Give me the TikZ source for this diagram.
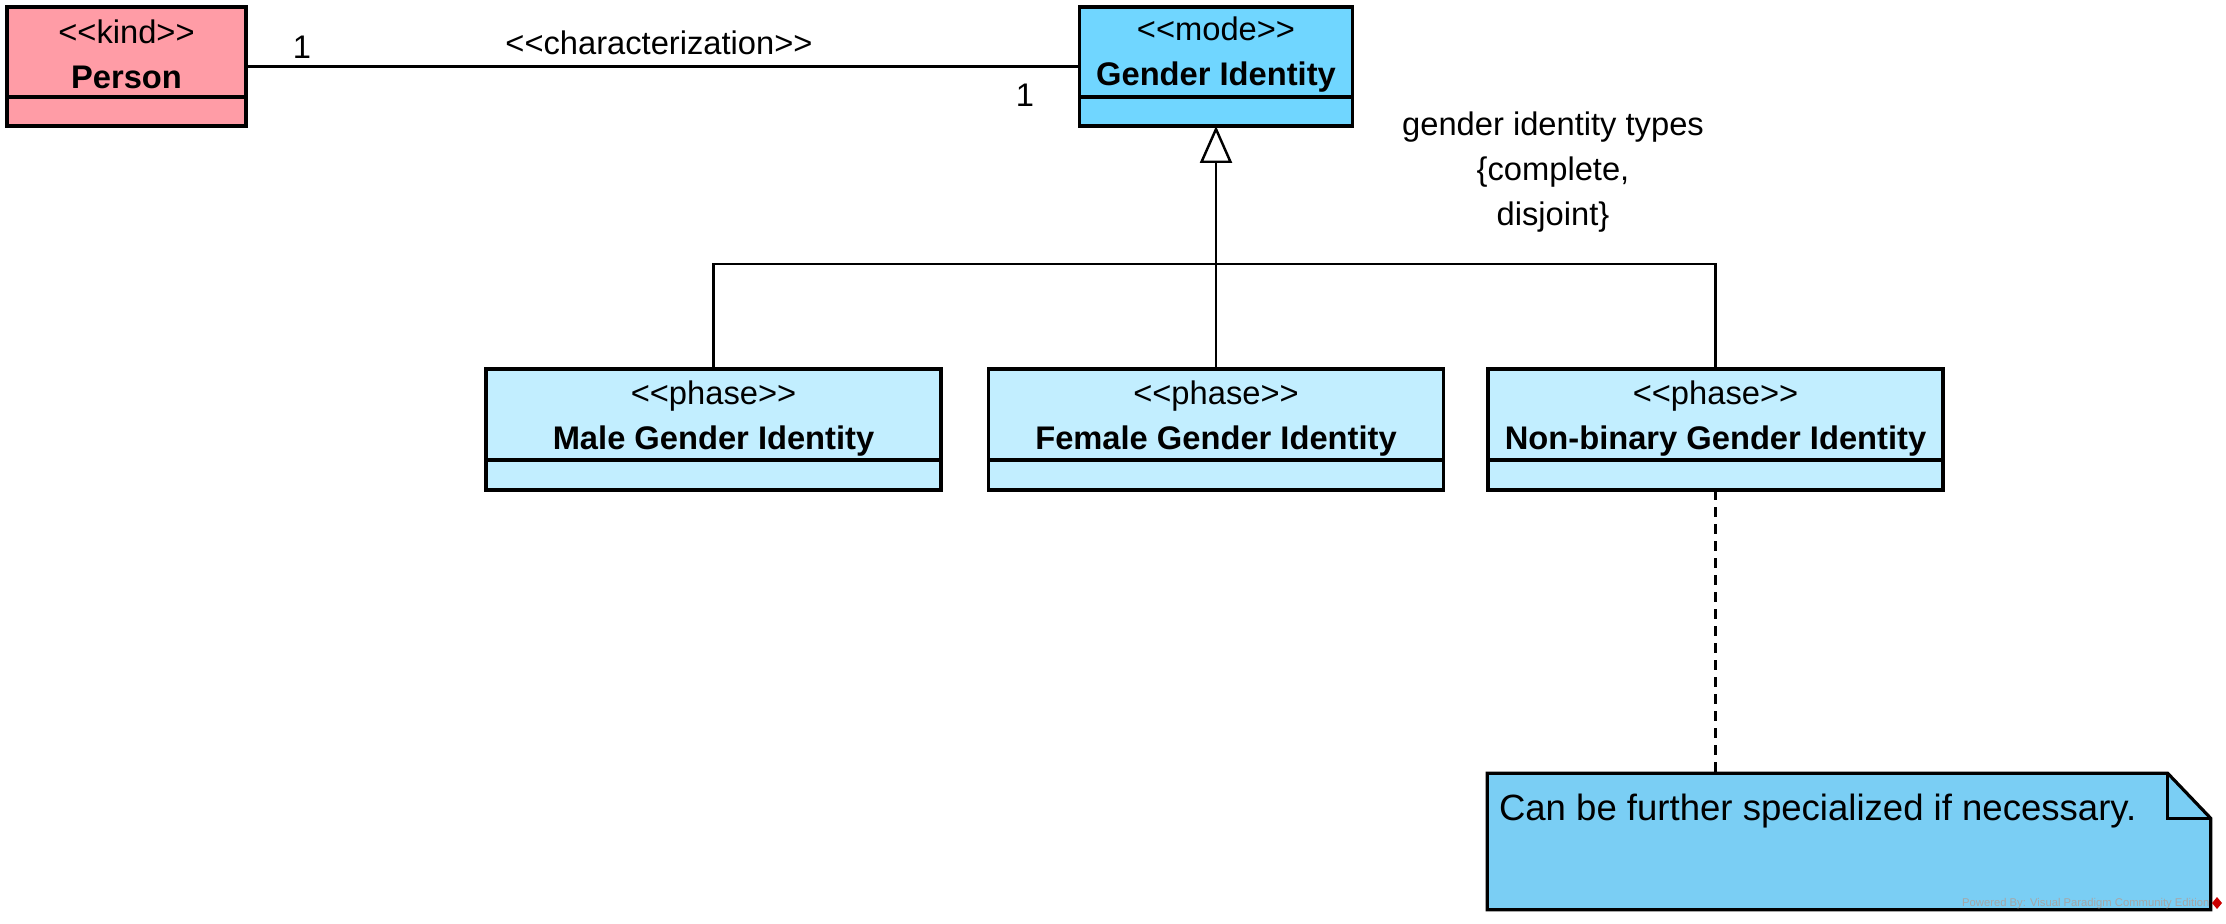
\documentclass[tikz,border=0pt]{standalone}
\definecolor{kindpink}{HTML}{FF9CA6}
\definecolor{modeblue}{HTML}{70D6FF}
\definecolor{phaseblue}{HTML}{C2EEFF}
\definecolor{noteblue}{HTML}{7ACEF4}
\usepackage{fontspec}
\setmainfont{Liberation Sans}[Ligatures=TeXOff]
\usetikzlibrary{arrows.meta}
\usetikzlibrary{calc}

\begin{document}
\begin{tikzpicture}[
	cls/.style={draw, line width=0.9pt, minimum height=1.19cm, inner sep=0pt, outer sep=0pt},
	lbl/.style={font=\fontsize{9.3}{12.8}\selectfont, inner sep=0pt, align=center},
	conn/.style={line width=0.7pt}]
	\useasboundingbox (0,0) rectangle (22.26,-9.24);
	% top row
	\node[cls, fill=kindpink, minimum width=2.39cm] (person) at (1.265,-0.665) {};
	\node[cls, fill=modeblue, minimum width=2.73cm] (gi) at (12.16,-0.665) {};
	\draw[line width=0.9pt] ($(person.south west)+(0,0.29)$) -- ($(person.south east)+(0,0.29)$);
	\draw[line width=0.9pt] ($(gi.south west)+(0,0.29)$) -- ($(gi.south east)+(0,0.29)$);
	\node[lbl] (personlbl) at ($(person.north)+(0,-0.475)$) {<<kind>>\\\textbf{Person}};
	\node[lbl] (gilbl) at ($(gi.north)+(0,-0.475)$) {<<mode>>\\\textbf{Gender Identity}};
	% phases
	\foreach \id/\x/\nm in {male/7.135/Male, female/12.16/Female, nb/17.155/Non-binary} {
		\node[cls, fill=phaseblue, minimum width=4.55cm, minimum height=1.21cm] (\id) at (\x,-4.295) {};
		\draw[line width=0.9pt] ($(\id.south west)+(0,0.30)$) -- ($(\id.south east)+(0,0.30)$);
		\node[lbl] (\id lbl) at ($(\id.north)+(0,-0.495)$) {<<phase>>\\\textbf{\nm\ Gender Identity}};
	}
	% characterization
	\draw[conn] (person.east) -- (gi.west);
	\node[lbl] (mult1) at (3.02,-0.47) {1};
	\node[lbl] (mult2) at (10.25,-0.95) {1};
	\node[lbl] (assoc) at (6.59,-0.43) {<<characterization>>};
	% generalization set
	\coordinate (genbar) at (12.16,-2.64);
	\draw[conn] (male.north) |- (genbar) -| (nb.north);
	\draw[conn, -{Triangle[open, length=3.7mm, width=3.2mm, line width=0.7pt]}] (female.north) -- (gi.south);
	\node[lbl] (genset) at (15.53,-1.725) {gender identity types\\\{complete,\\disjoint\}};
	% note
	\node[minimum width=7.22cm, minimum height=1.35cm, inner sep=0pt] (note) at (18.49,-8.415) {};
	\filldraw[fill=noteblue, line width=0.9pt] (note.north west) -- ($(note.north east)+(-0.43,0)$)
		-- ($(note.north east)+(0,-0.45)$) -- (note.south east) -- (note.south west) -- cycle;
	\draw[line width=0.9pt] ($(note.north east)+(-0.43,0)$) |- ($(note.north east)+(0,-0.45)$);
	\node[font=\fontsize{10.4}{12}\selectfont, inner sep=0pt, anchor=west] (notetxt) at ($(note.north west)+(0.11,-0.38)$) {Can be further specialized if necessary.};
	\draw[conn, dash pattern=on 0.1cm off 0.07cm] (nb.south) -- (nb.south |- note.north);
	\node[font=\fontsize{3.2}{3.5}\selectfont, text=gray!70, anchor=east, inner sep=0pt] (wm) at (22.10,-9.04) {Powered By: Visual Paradigm Community Edition};
	\fill[red!80!black] (22.17,-8.97) -- (22.22,-9.03) -- (22.17,-9.09) -- (22.12,-9.03) -- cycle;
\end{tikzpicture}
\end{document}
